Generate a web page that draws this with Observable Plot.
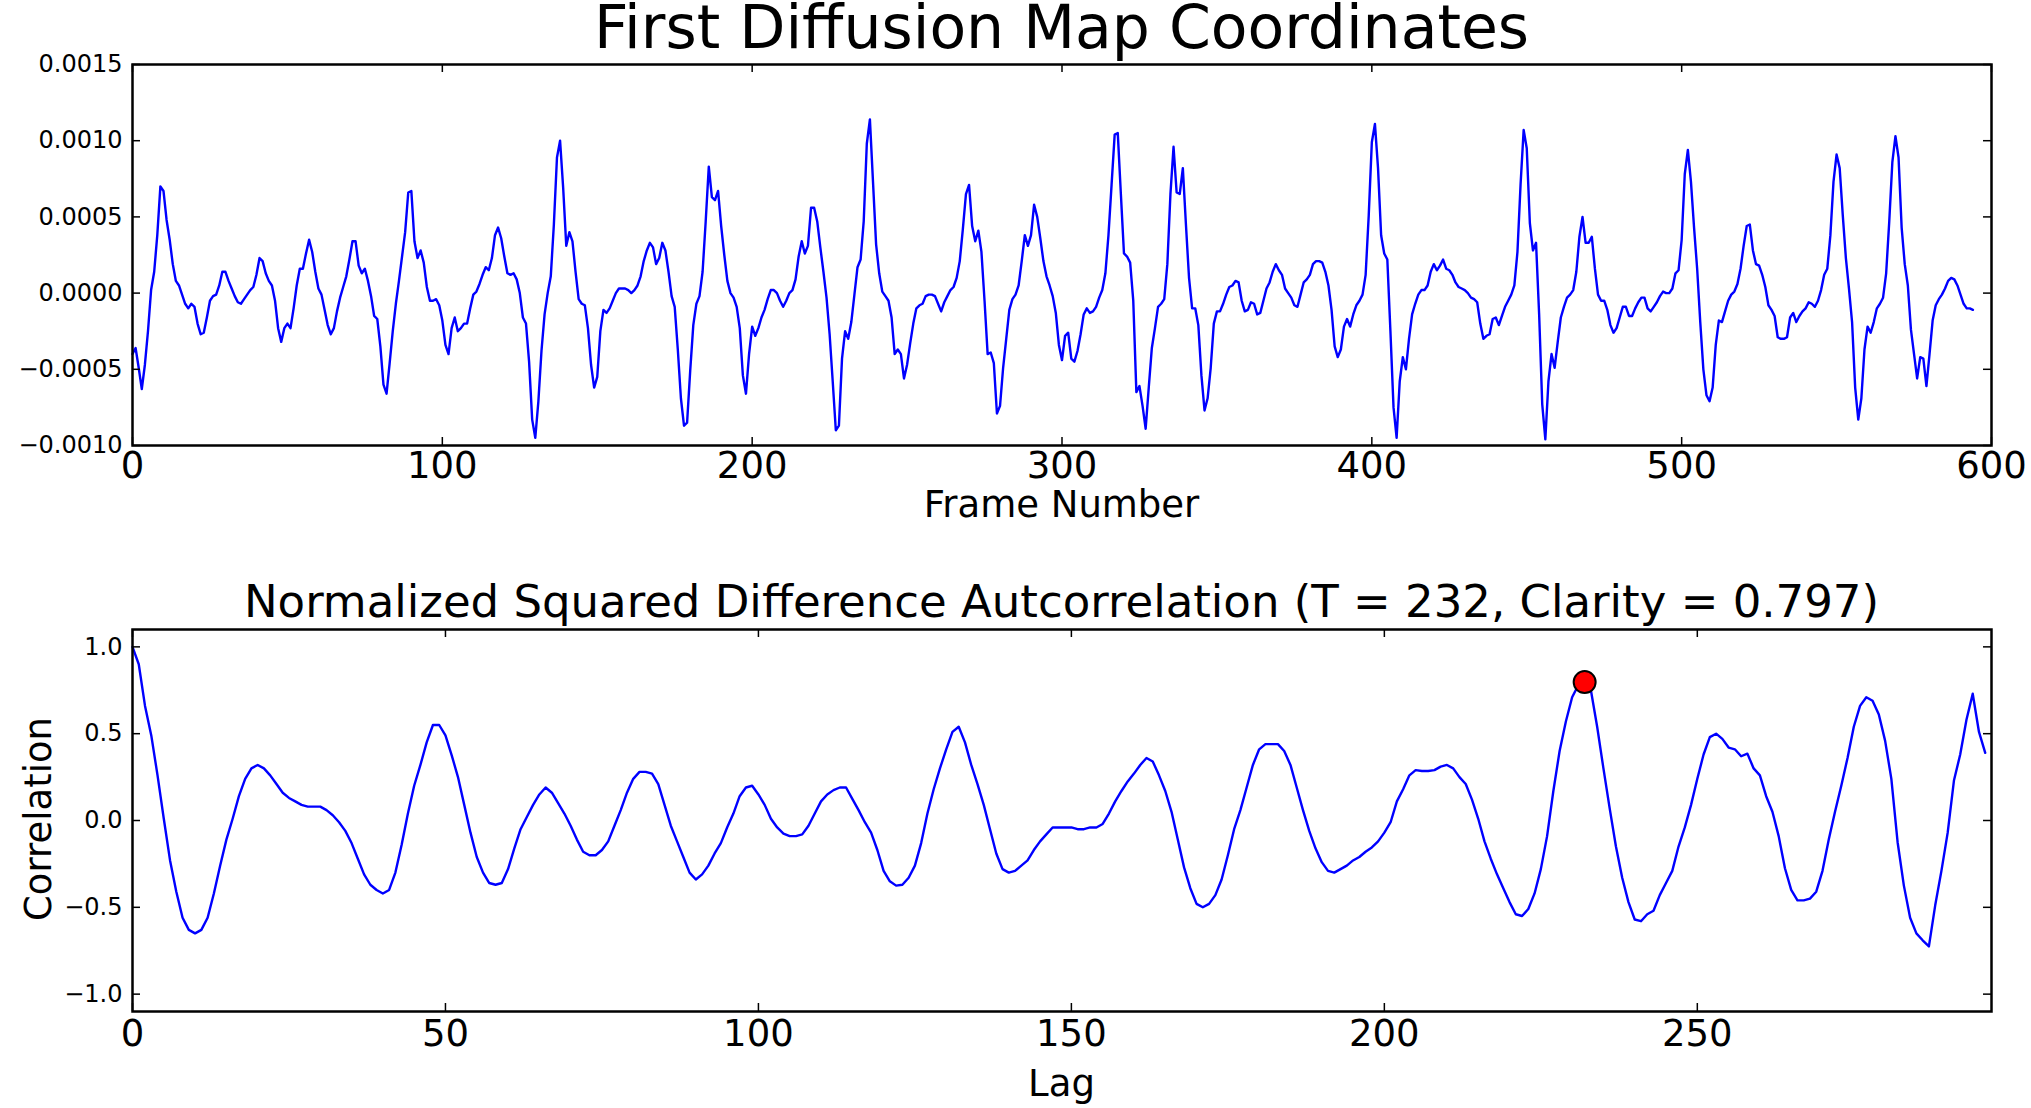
<!DOCTYPE html>
<html><head><meta charset="utf-8">
<script src="https://cdn.jsdelivr.net/npm/d3@7"></script>
<script src="https://cdn.jsdelivr.net/npm/@observablehq/plot@0.6"></script>
<style>
html,body{margin:0;padding:0;background:#fff;}
#root{position:relative;width:2031px;height:1108px;font-family:"DejaVu Sans",sans-serif;color:#000;overflow:hidden;background:#fff;}
#root svg{position:absolute;left:0;}
.txt{position:absolute;white-space:nowrap;line-height:0.85;font-family:"DejaVu Sans",sans-serif;}
</style></head><body><div id="root"></div>
<script>
// ---------- DATA ----------
const titleTop = "First Diffusion Map Coordinates";
const xLabelTop = "Frame Number";
const titleBottom = "Normalized Squared Difference Autcorrelation (T = 232, Clarity = 0.797)";
const xLabelBottom = "Lag";
const yLabelBottom = "Correlation";

const topXTicks = [0, 100, 200, 300, 400, 500, 600];
const topYTicks = [-0.001, -0.0005, 0, 0.0005, 0.001, 0.0015];
const bottomXTicks = [0, 50, 100, 150, 200, 250];
const bottomYTicks = [-1, -0.5, 0, 0.5, 1];

// first diffusion map coordinate, frames 0..594
const diffusion = [
-0.0004,-0.00036,-0.00049,-0.00063,-0.00047,-0.00025,0.00002,0.00014,0.00038,0.0007,
0.00067,0.00048,0.00035,0.00019,0.00008,0.00005,-0.00001,-0.00007,-0.0001,-0.00007,
-0.00009,-0.0002,-0.00027,-0.00026,-0.00016,-0.00005,-0.00002,-0.00001,0.00005,0.00014,
0.00014,0.00008,0.00003,-0.00002,-0.00006,-0.00007,-0.00004,-0.00001,0.00002,0.00004,
0.00012,0.00023,0.00021,0.00013,0.00008,0.00005,-0.00005,-0.00023,-0.00032,-0.00023,
-0.0002,-0.00023,-0.0001,0.00005,0.00016,0.00016,0.00026,0.00035,0.00027,0.00014,
0.00003,-0.00001,-0.00011,-0.00021,-0.00027,-0.00023,-0.00012,-0.00003,0.00004,0.00011,
0.00022,0.00034,0.00034,0.00018,0.00013,0.00016,0.00008,-0.00002,-0.00015,-0.00017,
-0.00035,-0.0006,-0.00066,-0.00046,-0.00025,-0.00007,0.00008,0.00024,0.0004,0.00066,
0.00067,0.00034,0.00023,0.00028,0.0002,0.00004,-0.00005,-0.00005,-0.00004,-0.00008,
-0.00018,-0.00034,-0.0004,-0.00023,-0.00016,-0.00025,-0.00023,-0.0002,-0.0002,-0.0001,
-0.00001,0.00001,0.00006,0.00012,0.00017,0.00015,0.00023,0.00038,0.00043,0.00036,
0.00024,0.00013,0.00012,0.00013,0.00009,0,-0.00016,-0.0002,-0.00045,-0.00083,
-0.00095,-0.00071,-0.00038,-0.00014,0,0.00011,0.00045,0.00089,0.001,0.00069,
0.00031,0.0004,0.00034,0.00014,-0.00004,-0.00007,-0.00008,-0.00023,-0.00047,-0.00062,
-0.00055,-0.00025,-0.00011,-0.00013,-0.0001,-0.00005,0,0.00003,0.00003,0.00003,
0.00002,0,0.00002,0.00005,0.00011,0.00021,0.00028,0.00033,0.0003,0.00019,
0.00023,0.00033,0.00028,0.00014,-0.00002,-0.00009,-0.00037,-0.00069,-0.00087,-0.00085,
-0.00051,-0.00021,-0.00007,-0.00002,0.00014,0.00047,0.00083,0.00063,0.00061,0.00067,
0.00044,0.00025,0.00008,0,-0.00003,-0.00009,-0.00023,-0.00054,-0.00066,-0.0004,
-0.00022,-0.00028,-0.00023,-0.00016,-0.00011,-0.00004,0.00002,0.00002,0,-0.00005,
-0.00009,-0.00005,0,0.00002,0.00009,0.00024,0.00034,0.00026,0.00031,0.00056,
0.00056,0.00047,0.0003,0.00014,-0.00003,-0.00027,-0.00058,-0.0009,-0.00087,-0.00043,
-0.00025,-0.0003,-0.00019,-0.00001,0.00017,0.00022,0.00047,0.00098,0.00114,0.00073,
0.00032,0.00013,0.00001,-0.00002,-0.00005,-0.00016,-0.0004,-0.00037,-0.0004,-0.00056,
-0.00047,-0.00033,-0.0002,-0.0001,-0.00008,-0.00007,-0.00002,-0.00001,-0.00001,-0.00002,
-0.00007,-0.00012,-0.00006,-0.00002,0.00002,0.00004,0.0001,0.00021,0.00042,0.00065,
0.00071,0.00044,0.00034,0.00041,0.00027,-0.00005,-0.0004,-0.00039,-0.00046,-0.00079,
-0.00074,-0.00049,-0.0003,-0.00011,-0.00004,-0.00001,0.00005,0.00021,0.00038,0.00031,
0.00038,0.00058,0.0005,0.00036,0.00021,0.00011,0.00005,-0.00002,-0.00013,-0.00034,
-0.00044,-0.00028,-0.00026,-0.00043,-0.00045,-0.00038,-0.00027,-0.00014,-0.0001,-0.00013,
-0.00012,-0.00009,-0.00003,0.00002,0.00013,0.00038,0.00071,0.00104,0.00105,0.00065,
0.00026,0.00024,0.0002,-0.00005,-0.00065,-0.00061,-0.00074,-0.00089,-0.00062,-0.00036,
-0.00023,-0.00009,-0.00007,-0.00004,0.00019,0.00065,0.00096,0.00066,0.00065,0.00082,
0.00045,0.0001,-0.0001,-0.0001,-0.00021,-0.00054,-0.00077,-0.00069,-0.00049,-0.0002,
-0.00012,-0.00012,-0.00007,-0.00001,0.00004,0.00005,0.00008,0.00007,-0.00005,-0.00012,
-0.00011,-0.00006,-0.00007,-0.00014,-0.00013,-0.00005,0.00003,0.00007,0.00014,0.00019,
0.00015,0.00012,0.00003,0,-0.00003,-0.00008,-0.00009,-0.00001,0.00007,0.00009,
0.00012,0.00019,0.00021,0.00021,0.0002,0.00014,0.00005,-0.00011,-0.00035,-0.00042,
-0.00037,-0.00022,-0.00017,-0.00022,-0.00014,-0.00008,-0.00005,-0.00001,0.00012,0.00051,
0.00099,0.00111,0.00082,0.00038,0.00026,0.00022,-0.00025,-0.00075,-0.00095,-0.00058,
-0.00042,-0.0005,-0.0003,-0.00014,-0.00007,-0.00001,0.00002,0.00002,0.00005,0.00014,
0.00019,0.00015,0.00018,0.00022,0.00016,0.00015,0.00012,0.00007,0.00004,0.00003,
0.00002,0,-0.00003,-0.00004,-0.00006,-0.0002,-0.0003,-0.00028,-0.00027,-0.00017,
-0.00016,-0.00021,-0.00015,-0.00009,-0.00005,-0.00001,0.00005,0.00027,0.00071,0.00107,
0.00095,0.00046,0.00028,0.00033,-0.00014,-0.00073,-0.00096,-0.00058,-0.0004,-0.00049,
-0.00032,-0.00016,-0.00009,-0.00003,-0.00001,0.00002,0.00014,0.00037,0.0005,0.00033,
0.00033,0.00037,0.00016,-0.00001,-0.00005,-0.00005,-0.00011,-0.00021,-0.00026,-0.00023,
-0.00016,-0.00009,-0.00009,-0.00015,-0.00015,-0.0001,-0.00006,-0.00003,-0.00003,-0.0001,
-0.00012,-0.00009,-0.00006,-0.00002,0.00001,0,0,0.00003,0.00013,0.00015,
0.00035,0.00078,0.00094,0.00073,0.00043,0.00016,-0.00019,-0.0005,-0.00067,-0.00071,
-0.00062,-0.00034,-0.00018,-0.00019,-0.00012,-0.00005,-0.00001,0.00001,0.00006,0.00016,
0.00031,0.00044,0.00045,0.00028,0.00019,0.00018,0.00012,0.00004,-0.00008,-0.00011,
-0.00015,-0.00029,-0.0003,-0.0003,-0.00029,-0.00016,-0.00013,-0.00019,-0.00015,-0.00012,
-0.0001,-0.00006,-0.00007,-0.00009,-0.00005,0.00002,0.00012,0.00016,0.00038,0.00073,
0.00091,0.00082,0.00051,0.00023,0.00003,-0.00019,-0.00062,-0.00083,-0.00069,-0.00037,
-0.00022,-0.00026,-0.00019,-0.0001,-0.00007,-0.00003,0.00013,0.00047,0.00086,0.00103,
0.00089,0.00043,0.00019,0.00005,-0.00024,-0.0004,-0.00056,-0.00042,-0.00043,-0.00061,
-0.0004,-0.00018,-0.00008,-0.00004,-0.00001,0.00003,0.00008,0.0001,0.00009,0.00005,
-0.00001,-0.00007,-0.0001,-0.0001,-0.00011
];

// normalized squared difference autocorrelation, lags 0..296
const correlation = [
1.00,0.90,0.66,0.49,0.26,0.01,-0.23,-0.41,-0.56,-0.63,
-0.65,-0.63,-0.56,-0.42,-0.26,-0.11,0.01,0.14,0.24,0.30,
0.32,0.30,0.26,0.21,0.16,0.13,0.11,0.09,0.08,0.08,
0.08,0.06,0.03,-0.01,-0.06,-0.13,-0.22,-0.31,-0.37,-0.40,
-0.42,-0.40,-0.30,-0.14,0.04,0.20,0.32,0.45,0.55,0.55,
0.49,0.375,0.25,0.09,-0.07,-0.21,-0.30,-0.36,-0.37,-0.36,
-0.28,-0.16,-0.05,0.02,0.09,0.15,0.19,0.16,0.10,0.04,
-0.03,-0.11,-0.18,-0.20,-0.20,-0.17,-0.12,-0.03,0.06,0.16,
0.24,0.28,0.28,0.27,0.21,0.09,-0.03,-0.12,-0.21,-0.30,
-0.34,-0.31,-0.26,-0.19,-0.13,-0.04,0.04,0.14,0.19,0.20,
0.15,0.09,0.01,-0.04,-0.075,-0.09,-0.09,-0.08,-0.03,0.04,
0.11,0.15,0.175,0.19,0.19,0.125,0.06,-0.01,-0.07,-0.17,
-0.29,-0.35,-0.375,-0.37,-0.33,-0.26,-0.13,0.04,0.18,0.30,
0.41,0.51,0.54,0.45,0.32,0.21,0.09,-0.05,-0.19,-0.28,
-0.30,-0.29,-0.26,-0.23,-0.17,-0.12,-0.08,-0.04,-0.04,-0.04,
-0.04,-0.05,-0.05,-0.04,-0.04,-0.02,0.04,0.11,0.17,0.225,
0.27,0.32,0.36,0.34,0.26,0.17,0.05,-0.11,-0.27,-0.39,
-0.48,-0.50,-0.48,-0.43,-0.34,-0.20,-0.05,0.06,0.19,0.32,
0.41,0.44,0.44,0.44,0.40,0.32,0.19,0.06,-0.06,-0.16,
-0.24,-0.29,-0.30,-0.28,-0.26,-0.23,-0.21,-0.18,-0.155,-0.12,
-0.07,-0.01,0.11,0.18,0.26,0.29,0.285,0.285,0.29,0.31,
0.32,0.30,0.25,0.21,0.12,0.01,-0.12,-0.22,-0.31,-0.39,
-0.47,-0.54,-0.55,-0.51,-0.42,-0.28,-0.09,0.17,0.40,0.57,
0.71,0.78,0.797,0.75,0.54,0.30,0.07,-0.15,-0.33,-0.47,
-0.57,-0.58,-0.54,-0.52,-0.43,-0.36,-0.29,-0.15,-0.04,0.09,
0.24,0.38,0.48,0.50,0.47,0.42,0.41,0.37,0.385,0.30,
0.26,0.14,0.05,-0.09,-0.275,-0.40,-0.46,-0.46,-0.45,-0.41,
-0.29,-0.11,0.05,0.20,0.36,0.54,0.66,0.71,0.69,0.61,
0.46,0.24,-0.125,-0.375,-0.56,-0.65,-0.69,-0.725,-0.49,-0.29,
-0.07,0.23,0.38,0.58,0.73,0.51,0.39
];

const peakLag = [232];
const peakClarity = [0.797];

// ---------- LAYOUT ----------
const W = 2031;
const root = document.getElementById("root");
const FONT = "'DejaVu Sans', sans-serif";

function innerTicks(xTicks, yTicks, innerW, innerH) {
  const t = 8, sw = 1.5;
  return [
    Plot.tickX(xTicks, {x: d => d, insetTop: innerH - t, stroke: "black", strokeWidth: sw}),
    Plot.tickX(xTicks, {x: d => d, insetBottom: innerH - t, stroke: "black", strokeWidth: sw}),
    Plot.tickY(yTicks, {y: d => d, insetRight: innerW - t, stroke: "black", strokeWidth: sw}),
    Plot.tickY(yTicks, {y: d => d, insetLeft: innerW - t, stroke: "black", strokeWidth: sw})
  ];
}

// Top panel
const mL = 132, mR = 40;
const h1 = 540, mT1 = 64, mB1 = 95;
const topChart = Plot.plot({
  width: W, height: h1,
  marginTop: mT1, marginBottom: mB1, marginLeft: mL, marginRight: mR,
  style: {fontFamily: FONT, background: "transparent", color: "black", overflow: "visible"},
  x: {domain: [0, 600]},
  y: {domain: [-0.001, 0.0015]},
  marks: [
    Plot.lineY(diffusion, {stroke: "#0000ff", strokeWidth: 2.4}),
    ...innerTicks(topXTicks, topYTicks, W - mL - mR, h1 - mT1 - mB1),
    Plot.frame({stroke: "black", strokeWidth: 2.5}),
    Plot.axisX(topXTicks, {anchor: "bottom", tickSize: 0, tickPadding: 6, fontSize: 37, label: null, tickFormat: d => String(d)}),
    Plot.axisY(topYTicks, {anchor: "left", tickSize: 0, tickPadding: 10, fontSize: 24, label: null, tickFormat: d3.format(".4f")})
  ]
});
topChart.style.top = "0px";
root.appendChild(topChart);

// Bottom panel
const top2 = 540, h2 = 568, mT2 = 89, mB2 = 97;
const peakData = peakLag.map((l, i) => ({lag: l, corr: peakClarity[i]}));
const bottomChart = Plot.plot({
  width: W, height: h2,
  marginTop: mT2, marginBottom: mB2, marginLeft: mL, marginRight: mR,
  style: {fontFamily: FONT, background: "transparent", color: "black", overflow: "visible"},
  x: {domain: [0, 297]},
  y: {domain: [-1.1, 1.1]},
  marks: [
    Plot.lineY(correlation, {stroke: "#0000ff", strokeWidth: 2.4}),
    Plot.dot(peakData, {x: "lag", y: "corr", r: 11, fill: "#ff0000", stroke: "black", strokeWidth: 2}),
    ...innerTicks(bottomXTicks, bottomYTicks, W - mL - mR, h2 - mT2 - mB2),
    Plot.frame({stroke: "black", strokeWidth: 2.5}),
    Plot.axisX(bottomXTicks, {anchor: "bottom", tickSize: 0, tickPadding: 8, fontSize: 37, label: null, tickFormat: d => String(d)}),
    Plot.axisY(bottomYTicks, {anchor: "left", tickSize: 0, tickPadding: 10, fontSize: 24, label: null, tickFormat: d3.format(".1f")})
  ]
});
bottomChart.style.top = top2 + "px";
root.appendChild(bottomChart);

// Text (line-height 0.85: baseline sits 0.771em below the box top)
function addText(str, size, cx, baseline) {
  const d = document.createElement("div");
  d.className = "txt";
  d.textContent = str;
  d.style.fontSize = size + "px";
  d.style.left = cx + "px";
  d.style.top = (baseline - 0.771 * size) + "px";
  d.style.transform = "translateX(-50%)";
  root.appendChild(d);
  return d;
}
const cx = (mL + (W - mR)) / 2;
addText(titleTop, 60, cx, 48);
addText(xLabelTop, 37, cx, 518);
addText(titleBottom, 45, cx, 618);
addText(xLabelBottom, 37, cx, 1097);
const yl = document.createElement("div");
yl.className = "txt";
yl.textContent = yLabelBottom;
yl.style.fontSize = "37px";
yl.style.left = "39px";
yl.style.top = "819px";
yl.style.transform = "translate(-50%, -50%) rotate(-90deg)";
root.appendChild(yl);
</script>
</body></html>
